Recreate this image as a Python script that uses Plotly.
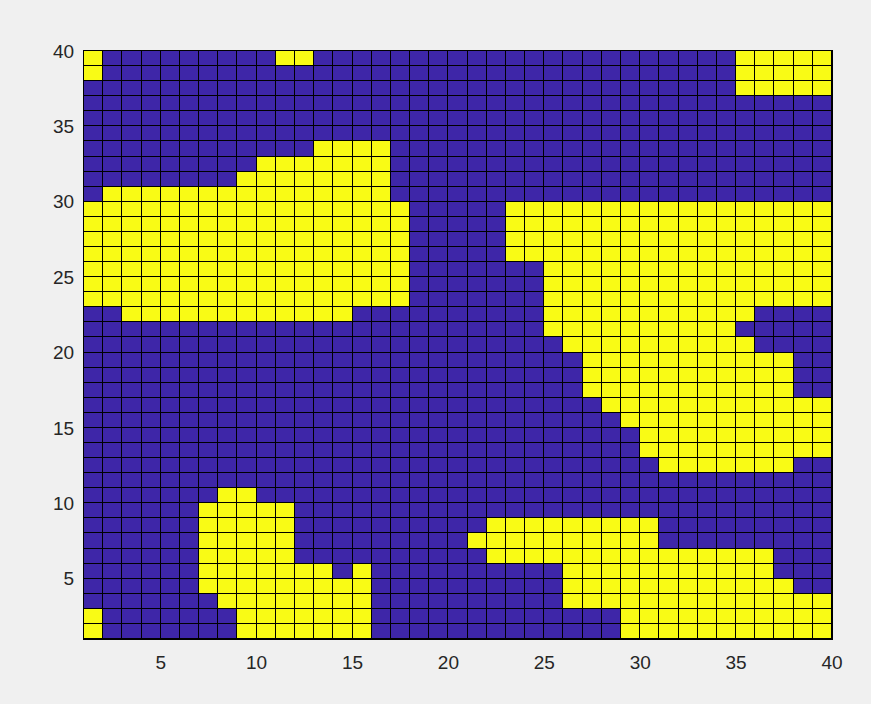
import plotly.graph_objects as go

# Cell edges (pcolor style: 40 grid points -> 39 cells per direction)
x_edges = list(range(1, 41))
y_edges = list(range(1, 41))
tick_vals = [5, 10, 15, 20, 25, 30, 35, 40]

# Cell states, top row (y 39-40) first; '1' = yellow, '0' = blue. 39 columns each (x 1..39)
cell_rows_top_down = [
    "100000000011000000000000000000000011111",  # 39
    "100000000000000000000000000000000011111",  # 38
    "000000000000000000000000000000000011111",  # 37
    "000000000000000000000000000000000000000",  # 36
    "000000000000000000000000000000000000000",  # 35
    "000000000000000000000000000000000000000",  # 34
    "000000000000111100000000000000000000000",  # 33
    "000000000111111100000000000000000000000",  # 32
    "000000001111111100000000000000000000000",  # 31
    "011111111111111100000000000000000000000",  # 30
    "111111111111111110000011111111111111111",  # 29
    "111111111111111110000011111111111111111",  # 28
    "111111111111111110000011111111111111111",  # 27
    "111111111111111110000011111111111111111",  # 26
    "111111111111111110000000111111111111111",  # 25
    "111111111111111110000000111111111111111",  # 24
    "111111111111111110000000111111111111111",  # 23
    "001111111111110000000000111111111110000",  # 22
    "000000000000000000000000111111111100000",  # 21
    "000000000000000000000000011111111110000",  # 20
    "000000000000000000000000001111111111100",  # 19
    "000000000000000000000000001111111111100",  # 18
    "000000000000000000000000001111111111100",  # 17
    "000000000000000000000000000111111111111",  # 16
    "000000000000000000000000000011111111111",  # 15
    "000000000000000000000000000001111111111",  # 14
    "000000000000000000000000000001111111111",  # 13
    "000000000000000000000000000000111111100",  # 12
    "000000000000000000000000000000000000000",  # 11
    "000000011000000000000000000000000000000",  # 10
    "000000111110000000000000000000000000000",  # 9
    "000000111110000000000111111111000000000",  # 8
    "000000111110000000001111111111000000000",  # 7
    "000000111110000000000111111111111111000",  # 6
    "000000111111101000000000011111111111000",  # 5
    "000000111111111000000000011111111111100",  # 4
    "000000011111111000000000011111111111111",  # 3
    "100000001111111000000000000011111111111",  # 2
    "100000001111111000000000000011111111111",  # 1
]

z = [[int(ch) for ch in row] for row in reversed(cell_rows_top_down)]

blue = "rgb(62,38,168)"
yellow = "rgb(249,251,21)"

fig = go.Figure(
    go.Heatmap(
        x=x_edges,
        y=y_edges,
        z=z,
        zmin=0,
        zmax=1,
        colorscale=[[0, blue], [0.5, blue], [0.5, yellow], [1, yellow]],
        showscale=False,
        xgap=1,
        ygap=1,
        hoverinfo="skip",
    )
)

axis_common = dict(
    range=[1, 40],
    tickvals=tick_vals,
    ticks="",
    showgrid=False,
    zeroline=False,
    showline=True,
    linecolor="black",
    linewidth=1,
    mirror=True,
    tickfont=dict(family="Liberation Sans, Arial, sans-serif", size=19, color="#262626"),
)

fig.update_layout(
    width=871,
    height=704,
    margin=dict(l=84, r=39, t=51, b=65),
    paper_bgcolor="#f0f0f0",
    plot_bgcolor="black",
    xaxis=dict(**axis_common, ticklabelstandoff=6),
    yaxis=dict(**axis_common, ticklabelstandoff=5),
)

fig.write_html(
    "out.html",
    config={"displayModeBar": False},
    post_script="document.body.style.margin='0';document.body.style.background='#f0f0f0';",
)
